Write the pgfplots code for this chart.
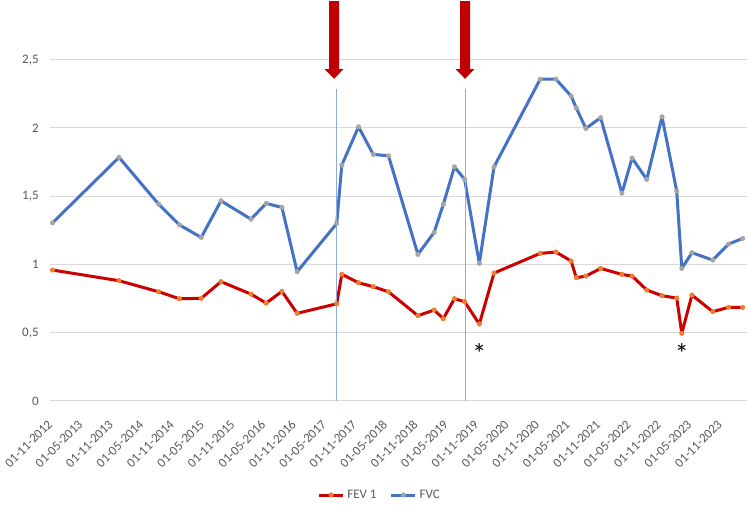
\documentclass[border=0pt]{standalone}
\usepackage{fontspec}
\setmainfont{Carlito}
\usepackage{pgfplots}
\usepackage{pgfplotstable}
\pgfplotsset{compat=1.18}
\definecolor{fevred}{HTML}{CC0000}
\definecolor{fevmark}{HTML}{ED7D31}
\definecolor{fvcblue}{HTML}{4472C4}
\definecolor{fvcmark}{HTML}{A5A5A5}
\definecolor{gridgray}{HTML}{D9D9D9}
\definecolor{labelgray}{HTML}{595959}
\definecolor{vline}{HTML}{8FAADC}
\definecolor{arrowred}{HTML}{C00000}

\pgfplotstableread{
m     fev    fvc
0     0.959  1.305
13.1  0.881  1.784
20.9  0.800  1.442
25.0  0.749  1.290
29.3  0.752  1.198
33.2  0.874  1.466
39.1  0.783  1.332
42.1  0.717  1.447
45.2  0.803  1.418
48.2  0.642  0.947
56.0  0.712  1.300
57.0  0.928  1.728
60.3  0.866  2.008
63.2  0.837  1.806
66.2  0.800  1.796
72.0  0.625  1.074
75.2  0.666  1.235
77.0  0.603  1.440
79.2  0.749  1.715
81.2  0.727  1.623
84.1  0.564  1.008
87.0  0.937  1.715
96.1  1.081  2.357
99.2  1.091  2.357
102.2 1.025  2.233
103.2 0.903  2.147
105.1 0.915  1.996
108.0 0.971  2.075
112.2 0.927  1.522
114.2 0.915  1.779
117.1 0.813  1.623
120.1 0.771  2.081
123.0 0.754  1.537
124.0 0.496  0.971
126.0 0.776  1.086
130.1 0.654  1.032
133.2 0.686  1.149
136.0 0.686  1.191
}\datatable

\begin{document}
\begin{tikzpicture}
\path[use as bounding box] (0,0) rectangle (561pt,378.75pt);
\begin{axis}[
  at={(37.5pt,78pt)}, anchor=south west,
  scale only axis, width=522.75pt, height=256pt,
  xmin=-0.5, xmax=136.85, ymin=0, ymax=2.5,
  ytick={0,0.5,1,1.5,2,2.5},
  xtick={0,6,...,132},
  xticklabels={01-11-2012,01-05-2013,01-11-2013,01-05-2014,01-11-2014,01-05-2015,01-11-2015,01-05-2016,01-11-2016,01-05-2017,01-11-2017,01-05-2018,01-11-2018,01-05-2019,01-11-2019,01-05-2020,01-11-2020,01-05-2021,01-11-2021,01-05-2022,01-11-2022,01-05-2023,01-11-2023},
  axis line style={draw=none},
  ymajorgrids, grid style={color=gridgray, line width=0.75pt},
  major tick length=0pt,
  tick label style={font=\fontsize{9.75}{11}\selectfont, text=labelgray},
  /pgf/number format/assume math mode=true,
  /pgf/number format/use comma,
  yticklabel style={xshift=-5pt},
  xticklabel style={anchor=north east, xshift=-4.2pt, yshift=-8.8pt, rotate=45},
  clip=false,
  legend style={at={(0.4735,-0.2754)}, anchor=center, draw=none, fill=none,
    legend columns=2, font=\fontsize{9.75}{11}\selectfont, text=labelgray,
    /tikz/every even column/.append style={column sep=8pt}},
  legend image code/.code={\draw[#1, mark repeat=2, mark phase=2] plot coordinates {(0pt,0pt) (9pt,0pt) (18pt,0pt)};},
]
\addplot[fevred, line width=2.25pt, line join=round, mark=*, mark size=1.7pt,
  mark options={fill=fevmark, draw=fevmark, line width=0.4pt}] table[x=m, y=fev] {\datatable};
\addlegendentry{FEV 1}
\addplot[fvcblue, line width=2.25pt, line join=round, mark=*, mark size=1.7pt,
  mark options={fill=fvcmark, draw=fvcmark, line width=0.4pt}] table[x=m, y=fvc] {\datatable};
\addlegendentry{FVC}

\draw[vline, line width=0.75pt] (axis cs:56.0,0) -- (axis cs:56.0,2.284);
\draw[vline, line width=0.75pt] (axis cs:81.4,0) -- (axis cs:81.4,2.284);

\fill[arrowred] ([xshift=-3.75pt]axis cs:55.47,2.928) -- ([xshift=3.75pt]axis cs:55.47,2.928)
  -- ([xshift=3.75pt]axis cs:55.47,2.43) -- ([xshift=7.1pt]axis cs:55.47,2.43)
  -- (axis cs:55.47,2.36) -- ([xshift=-7.1pt]axis cs:55.47,2.43)
  -- ([xshift=-3.75pt]axis cs:55.47,2.43) -- cycle;
\fill[arrowred] ([xshift=-3.75pt]axis cs:81.28,2.928) -- ([xshift=3.75pt]axis cs:81.28,2.928)
  -- ([xshift=3.75pt]axis cs:81.28,2.43) -- ([xshift=7.1pt]axis cs:81.28,2.43)
  -- (axis cs:81.28,2.36) -- ([xshift=-7.1pt]axis cs:81.28,2.43)
  -- ([xshift=-3.75pt]axis cs:81.28,2.43) -- cycle;

\node[font=\fontsize{21}{21}\selectfont, text=black, inner sep=0pt] at (axis cs:84.1,0.35) {*};
\node[font=\fontsize{21}{21}\selectfont, text=black, inner sep=0pt] at (axis cs:124.0,0.35) {*};
\end{axis}
\end{tikzpicture}
\end{document}
